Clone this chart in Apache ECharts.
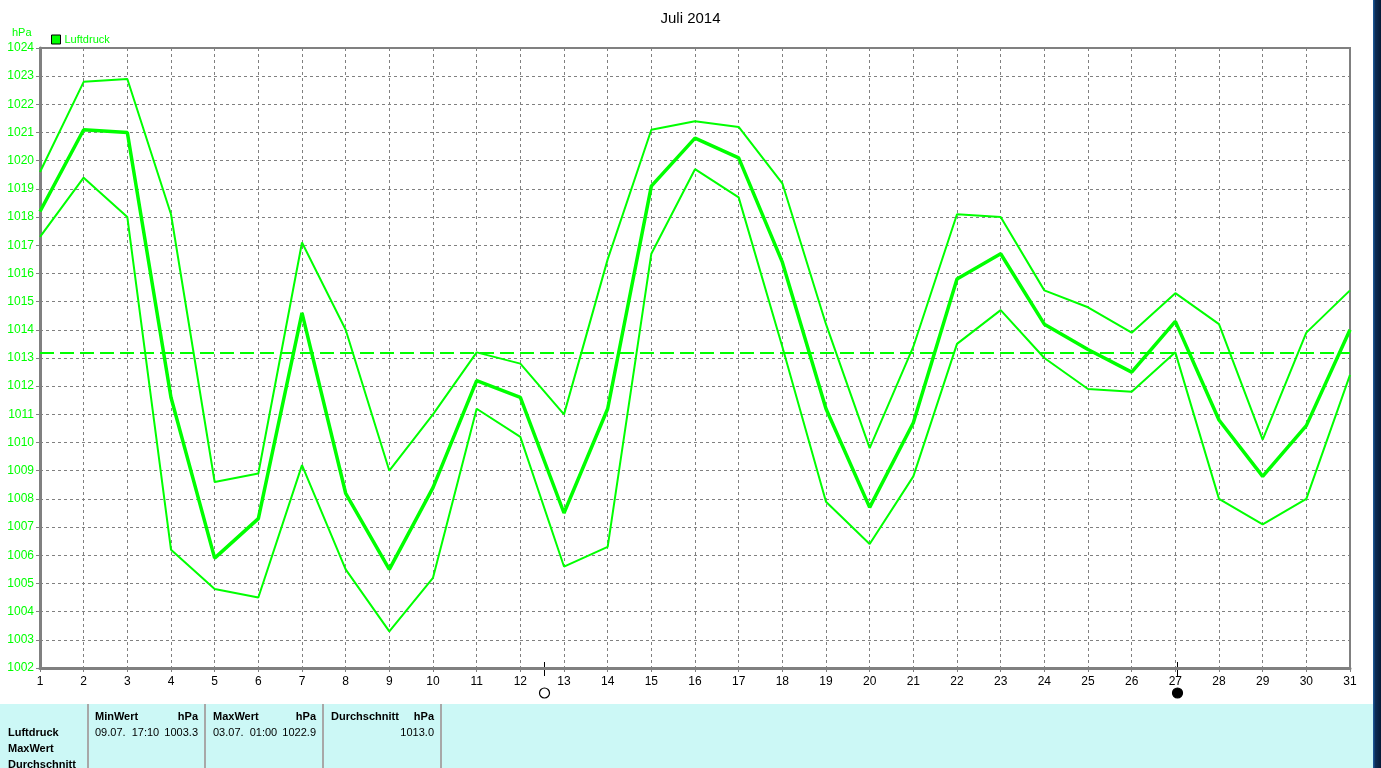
<!DOCTYPE html>
<html><head><meta charset="utf-8">
<script src="https://cdn.jsdelivr.net/npm/echarts@6/dist/echarts.min.js"></script>
<style>html,body{margin:0;padding:0;background:#fff;overflow:hidden}#c{width:1381px;height:768px;}</style>
</head><body><div id="c"></div>
<script>
const titleText = 'Juli 2014';
const seriesName = 'Luftdruck';
const unitText = 'hPa';
const days = [1,2,3,4,5,6,7,8,9,10,11,12,13,14,15,16,17,18,19,20,21,22,23,24,25,26,27,28,29,30,31];
const maxValues  = [1019.6,1022.8,1022.9,1018.1,1008.6,1008.9,1017.1,1014.0,1009.0,1011.0,1013.2,1012.8,1011.0,1016.5,1021.1,1021.4,1021.2,1019.2,1014.2,1009.8,1013.4,1018.1,1018.0,1015.4,1014.8,1013.9,1015.3,1014.2,1010.1,1013.9,1015.4];
const meanValues = [1018.2,1021.1,1021.0,1011.6,1005.9,1007.3,1014.6,1008.2,1005.5,1008.4,1012.2,1011.6,1007.5,1011.2,1019.1,1020.8,1020.1,1016.4,1011.2,1007.7,1010.7,1015.8,1016.7,1014.2,1013.3,1012.5,1014.3,1010.8,1008.8,1010.6,1014.0];
const minValues  = [1017.3,1019.4,1018.0,1006.2,1004.8,1004.5,1009.2,1005.5,1003.3,1005.2,1011.2,1010.2,1005.6,1006.3,1016.7,1019.7,1018.7,1013.4,1007.9,1006.4,1008.8,1013.5,1014.7,1013.0,1011.9,1011.8,1013.2,1008.0,1007.1,1008.0,1012.4];
const averageLine = 1013.2;
const yMin = 1002, yMax = 1024, yStep = 1;
const moonPhases = [{day: 12.55, type: 'full'}, {day: 27.04, type: 'new'}];
const rowLabels = ['Luftdruck', 'MaxWert', 'Durchschnitt'];
const statColumns = [
  {header: 'MinWert', unit: 'hPa', when: '09.07.  17:10', value: '1003.3'},
  {header: 'MaxWert', unit: 'hPa', when: '03.07.  01:00', value: '1022.9'},
  {header: 'Durchschnitt', unit: 'hPa', when: '', value: '1013.0'}
];

const GREEN = '#00ff00';
const FONT = 'Liberation Sans, Arial, sans-serif';
const chart = echarts.init(document.getElementById('c'), null, {renderer: 'canvas'});

function pairs(vals){ return days.map((d,i)=>[d, vals[i]]); }

const option = {
  backgroundColor: '#ffffff',
  animation: false,
  title: {text: titleText, left: 'center', top: 6, textStyle: {fontFamily: FONT, fontSize: 15, fontWeight: 'normal', color: '#000'}},
  legend: {
    data: [seriesName], left: 46, top: 29, itemWidth: 9, itemHeight: 9, itemGap: 4,
    icon: 'rect', textStyle: {color: GREEN, fontFamily: FONT, fontSize: 11, padding: [0,0,0,-1]},
    itemStyle: {borderColor: '#000', borderWidth: 1, color: GREEN}
  },
  grid: {left: 40, right: 31, top: 48, bottom: 100, show: true, borderColor: '#808080', borderWidth: 2, backgroundColor: '#fff'},
  xAxis: {
    type: 'value', min: 1, max: 31, interval: 1,
    axisLine: {lineStyle: {color: '#808080', width: 3}},
    axisTick: {show: true, length: 4, lineStyle: {color: '#808080'}},
    axisLabel: {color: '#000', fontFamily: FONT, fontSize: 12, margin: 8, formatter: v => String(v)},
    splitLine: {show: true, lineStyle: {color: '#808080', type: [3,3], width: 1}}
  },
  yAxis: {
    type: 'value', min: yMin, max: yMax, interval: yStep,
    axisLine: {show: true, lineStyle: {color: '#808080', width: 3}},
    axisTick: {show: true, length: 4, lineStyle: {color: '#808080'}},
    axisLabel: {color: GREEN, fontFamily: FONT, fontSize: 12, margin: 6, formatter: v => String(v)},
    splitLine: {show: true, lineStyle: {color: '#808080', type: [3,3], width: 1}}
  },
  series: [
    {name: seriesName, type: 'line', data: pairs(maxValues), showSymbol: false, symbol: 'none',
     lineStyle: {color: GREEN, width: 2}, itemStyle: {color: GREEN}, z: 3},
    {name: seriesName, type: 'line', data: pairs(minValues), showSymbol: false, symbol: 'none',
     lineStyle: {color: GREEN, width: 2}, itemStyle: {color: GREEN}, z: 3},
    {name: seriesName, type: 'line', data: pairs(meanValues), showSymbol: false, symbol: 'none',
     lineStyle: {color: GREEN, width: 3.5}, itemStyle: {color: GREEN}, z: 4,
     markLine: {silent: true, symbol: ['none','none'], label: {show: false},
       lineStyle: {color: GREEN, width: 2, type: [14,6]},
       data: [{yAxis: averageLine}]}}
  ]
};
chart.setOption(option);

// Overlay graphics
const g = [];
g.push({type: 'text', left: 12, top: 27, style: {text: unitText, fill: GREEN, font: '11px ' + FONT}});
// right dark strip
g.push({type: 'rect', shape: {x: 1373, y: 0, width: 8, height: 768},
  style: {fill: new echarts.graphic.LinearGradient(0,0,1,0,[{offset:0,color:'#1d5fa3'},{offset:0.3,color:'#0c2c55'},{offset:1,color:'#061a36'}])}});
// moon markers
moonPhases.forEach(m => {
  const p = chart.convertToPixel({gridIndex: 0}, [m.day, yMin]);
  const x = Math.round(p[0]) + 0.5;
  g.push({type: 'line', shape: {x1: x, y1: p[1] - 6, x2: x, y2: p[1] + 8}, style: {stroke: '#000', lineWidth: 1}});
  g.push({type: 'circle', shape: {cx: x, cy: p[1] + 25, r: 5}, style: {fill: m.type === 'full' ? '#fff' : '#000', stroke: '#000', lineWidth: 1.2}});
});
// stats panel
g.push({type: 'rect', shape: {x: 0, y: 704, width: 1373, height: 64}, style: {fill: '#ccf8f6'}});
[88, 205, 323, 441].forEach(x => {
  g.push({type: 'rect', shape: {x: x - 1, y: 704, width: 2, height: 64}, style: {fill: '#a8a8a8'}});
});
rowLabels.forEach((t, i) => {
  g.push({type: 'text', x: 8, y: 733 + i * 16, style: {text: t, fill: '#000', font: 'bold 11px ' + FONT, textVerticalAlign: 'middle'}});
});
const colX = [95, 213, 331], colR = [198, 316, 434];
statColumns.forEach((c, i) => {
  g.push({type: 'text', x: colX[i], y: 717, style: {text: c.header, fill: '#000', font: 'bold 11px ' + FONT, textVerticalAlign: 'middle'}});
  g.push({type: 'text', x: colR[i], y: 717, style: {text: c.unit, fill: '#000', font: 'bold 11px ' + FONT, textAlign: 'right', textVerticalAlign: 'middle'}});
  if (c.when) g.push({type: 'text', x: colX[i], y: 733, style: {text: c.when, fill: '#000', font: '11px ' + FONT, textVerticalAlign: 'middle'}});
  g.push({type: 'text', x: colR[i], y: 733, style: {text: c.value, fill: '#000', font: '11px ' + FONT, textAlign: 'right', textVerticalAlign: 'middle'}});
});
chart.setOption({graphic: g});
</script>
</body></html>
